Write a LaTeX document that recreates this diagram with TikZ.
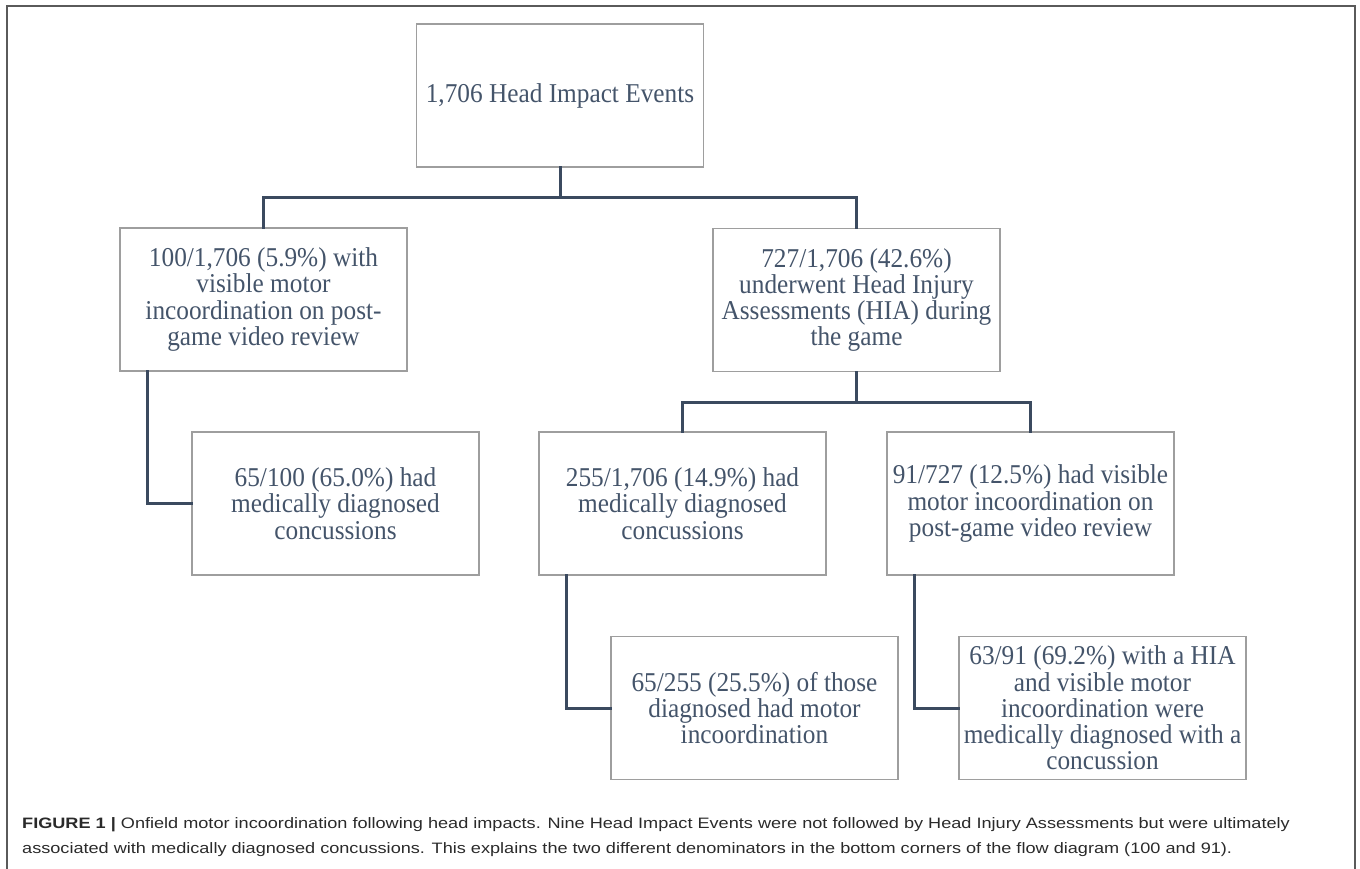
\documentclass[tikz,border=0pt]{standalone}
\usepackage{fontspec}
\setmainfont{Liberation Serif}[FakeStretch=0.93]
\newfontfamily\capfont{Liberation Sans}[FakeStretch=1.2]
\definecolor{txtcol}{HTML}{44546A}
\definecolor{boxgray}{HTML}{9E9E9E}
\definecolor{conncol}{HTML}{3B4A5F}
\definecolor{framecol}{HTML}{5A5A5A}
\definecolor{capcol}{HTML}{2A2A2A}
\tikzset{
  flowbox/.style={draw=boxgray, line width=1.3pt, fill=white, minimum width=287pt, minimum height=143pt,
    inner sep=0pt, align=center, text=txtcol, font=\fontsize{27.2}{26.2}\selectfont},
  conn/.style={draw=conncol, line width=3pt, line cap=rect, line join=miter},
  captext/.style={anchor=base west, inner sep=0pt, text=capcol, font=\capfont\fontsize{15.1}{25}\selectfont}
}
\begin{document}
\begin{tikzpicture}[x=1pt,y=-1pt]
\useasboundingbox (0,0) rectangle (1360,868);
\draw[framecol, line width=1.5pt] (7,872) -- (7,6) -- (1355,6) -- (1355,872);

\node[flowbox] (top) at (560,95.5) {1,706 Head Impact Events};
\node[flowbox] (l1) at (263.5,299.5) {100/1,706 (5.9\%) with\\ visible motor\\ incoordination on post-\\ game video review};
\node[flowbox] (r1) at (856.5,300) {727/1,706 (42.6\%)\\ underwent Head Injury\\ Assessments (HIA) during\\ the game};
\node[flowbox] (l2) at (335.5,503.5) {65/100 (65.0\%) had\\ medically diagnosed\\ concussions};
\node[flowbox] (m2) at (682.5,503.5) {255/1,706 (14.9\%) had\\ medically diagnosed\\ concussions};
\node[flowbox] (r2) at (1030.5,503.5) {91/727 (12.5\%) had visible\\ motor incoordination on\\ post-game video review};
\node[flowbox] (m3) at (754.5,708) {65/255 (25.5\%) of those\\ diagnosed had motor\\ incoordination};
\node[flowbox] (r3) at (1102.5,708) {63/91 (69.2\%) with a HIA\\ and visible motor\\ incoordination were\\ medically diagnosed with a\\ concussion};

\coordinate (j1) at (560,197);
\coordinate (j2) at (856.5,402);
\draw[conn] (top.south) -- (j1);
\draw[conn] (l1.north) |- (j1) -| (r1.north);
\draw[conn] (r1.south) -- (j2);
\draw[conn] (m2.north) |- (j2) -| (r2.north);
\draw[conn] ([xshift=28pt]l1.south west) |- (l2.west);
\draw[conn] ([xshift=28pt]m2.south west) |- (m3.west);
\draw[conn] ([xshift=28pt]r2.south west) |- (r3.west);

\node[captext] (cap1) at (22,828) {\textbf{FIGURE 1 |} Onfield motor incoordination following head impacts. Nine Head Impact Events were not followed by Head Injury Assessments but were ultimately};
\node[captext] (cap2) at (22,853) {associated with medically diagnosed concussions. This explains the two different denominators in the bottom corners of the flow diagram (100 and 91).};
\end{tikzpicture}
\end{document}
